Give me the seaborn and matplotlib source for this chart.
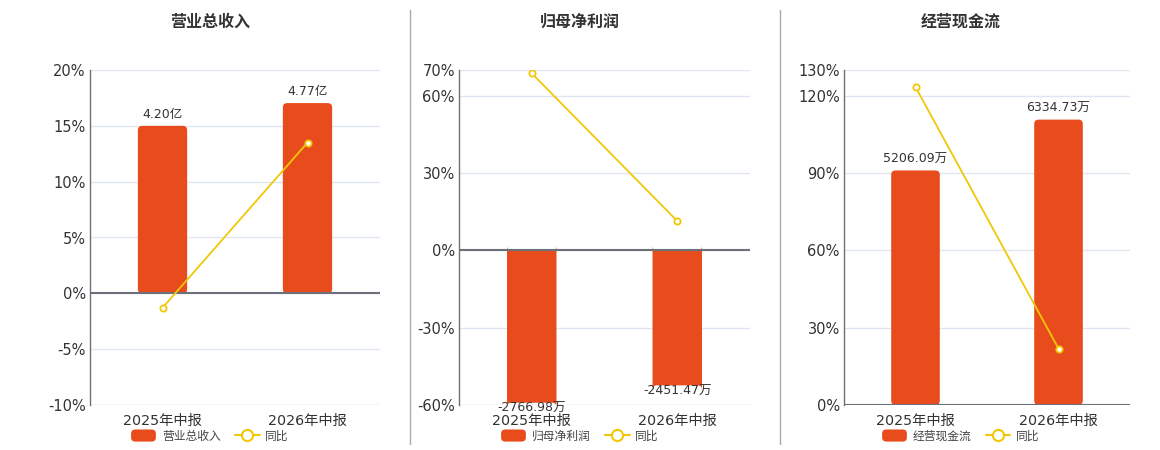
import numpy as np
import pandas as pd
import matplotlib
matplotlib.use("Agg")
import matplotlib.pyplot as plt
import seaborn as sns
from matplotlib.lines import Line2D
from matplotlib.patches import FancyBboxPatch, Patch
from matplotlib.legend_handler import HandlerPatch

# data
periods = ["2025年中报", "2026年中报"]
titles = ["营业总收入", "归母净利润", "经营现金流"]
bar_values = [[4.20, 4.77], [-2766.98, -2451.47], [5206.09, 6334.73]]
bar_units = ["亿", "万", "万"]
yoy_pct = [[-1.3, 13.5], [68.7, 11.4], [123.4, 21.9]]
pct_ticks = [[-10, -5, 0, 5, 10, 15, 20], [-60, -30, 0, 30, 60, 70], [0, 30, 60, 90, 120, 130]]
# hidden amount axis: amount per 1% on the left scale
bar_scale = [0.28, 46.8, 57.2]

BAR = "#e84c1c"
LINE = "#f0c808"
TXT = "#333333"
AXC = "#6e7079"
GRID = "#e0e6f1"

sns.set_style("white")
plt.rcParams["font.family"] = ["DejaVu Sans", "Noto Sans CJK SC"]


def round_handle(legend, orig_handle, xdescent, ydescent, width, height, fontsize):
    return FancyBboxPatch((-xdescent, -ydescent), width, height,
                          boxstyle="round,pad=0,rounding_size=3")


fig = plt.figure(figsize=(11.6, 4.5), dpi=100)
W, H = 1160, 450
boxes = [(90, 380), (459, 750), (844, 1130)]
centers = [210, 580, 961]

for i in range(3):
    x0, x1 = boxes[i]
    ax = fig.add_axes([x0 / W, (H - 405) / H, (x1 - x0) / W, 335 / H])
    axb = ax.twinx()
    ax.set_zorder(axb.get_zorder() + 1)
    ax.patch.set_visible(False)

    ticks = pct_ticks[i]
    lo, hi = ticks[0], ticks[-1]
    k = bar_scale[i]

    # bars on the hidden amount axis
    df = pd.DataFrame({"period": periods, "value": bar_values[i]})
    sns.barplot(data=df, x="period", y="value", color=BAR, width=0.34,
                saturation=1, ax=axb, zorder=2)
    axb.set_ylim(lo * k, hi * k)
    axb.set_yticks([t * k for t in ticks])
    axb.yaxis.grid(True, color=GRID, lw=1, zorder=0)
    axb.set_axisbelow(True)
    axb.tick_params(axis="y", length=0, labelright=False)
    axb.set_xlabel("")
    axb.set_ylabel("")
    for s in axb.spines.values():
        s.set_visible(False)

    # round the corners a little
    for p in list(axb.patches):
        bx, by, bw, bh = p.get_x(), p.get_y(), p.get_width(), p.get_height()
        p.remove()
        r = FancyBboxPatch((bx, by), bw, bh,
                           boxstyle="round,pad=0,rounding_size=0.03",
                           mutation_aspect=(hi - lo) * k / 335 * 290 / 2,
                           fc=BAR, ec="none", zorder=2)
        axb.add_patch(r)

    for j, v in enumerate(bar_values[i]):
        lbl = f"{v:.2f}{bar_units[i]}"
        if v >= 0:
            axb.annotate(lbl, (j, v), xytext=(0, 3.5), textcoords="offset points",
                         ha="center", va="bottom", fontsize=9, color=TXT)
        else:
            axb.annotate(lbl, (j, v), xytext=(0, 0.5), textcoords="offset points",
                         ha="center", va="top", fontsize=9, color=TXT)

    # yoy line on the percent axis
    sns.lineplot(x=np.arange(len(periods)), y=yoy_pct[i], ax=ax, color=LINE, lw=1.3,
                 marker="o", markersize=4.5, markerfacecolor="white",
                 markeredgecolor=LINE, markeredgewidth=1.3, zorder=5)
    ax.set_ylim(lo, hi)
    ax.set_yticks(ticks)
    ax.set_yticklabels([f"{t}%" for t in ticks])
    ax.tick_params(axis="y", length=0, labelsize=10.5, labelcolor=TXT, pad=3)
    ax.axhline(0, color=AXC, lw=1.5, zorder=4)
    ax.axhline(lo, color=GRID, lw=1, zorder=1)
    ax.set_xlim(-0.5, len(periods) - 0.5)

    for s in ["top", "right"]:
        ax.spines[s].set_visible(False)
    ax.spines["left"].set_color(AXC)
    ax.spines["left"].set_linewidth(1)
    ax.spines["bottom"].set_position(("data", 0))
    ax.spines["bottom"].set_visible(False)

    ax.set_xticks(np.arange(-0.5, len(periods), 1.0), minor=True)
    ax.tick_params(axis="x", which="minor", length=5, color=AXC, width=1,
                   labelbottom=False)
    ax.tick_params(axis="x", which="major", length=0, labelbottom=False)
    axb.xaxis.set_visible(True)
    axb.tick_params(axis="x", which="major", length=0, labelbottom=True,
                    labelsize=10.3, labelcolor=TXT, pad=6.5)
    axb.tick_params(axis="x", which="minor", length=0, labelbottom=False)
    ax.set_xlabel("")

    fig.text(centers[i] / W, 1 - 22 / H, titles[i], ha="center", va="center",
             fontsize=11.5, fontweight="bold", color=TXT)

    handles = [
        Patch(fc=BAR, ec="none"),
        Line2D([0], [0], color=LINE, lw=1.5, marker="o", markersize=8,
               markerfacecolor="white", markeredgecolor=LINE, markeredgewidth=1.5),
    ]
    fig.legend(handles, [titles[i], "同比"], loc="center",
               bbox_to_anchor=(centers[i] / W, 1 - 436 / H), ncol=2, frameon=False,
               fontsize=8.5, handlelength=2.1, handleheight=1.2, handletextpad=0.5,
               columnspacing=1.2, labelcolor="#444444",
               handler_map={Patch: HandlerPatch(patch_func=round_handle)})

for xd in [410, 780]:
    fig.add_artist(Line2D([xd / W, xd / W], [1 - 10 / H, 1 - 444 / H],
                          color="#aaaaaa", lw=1))

fig.savefig("out.png", dpi=100)
